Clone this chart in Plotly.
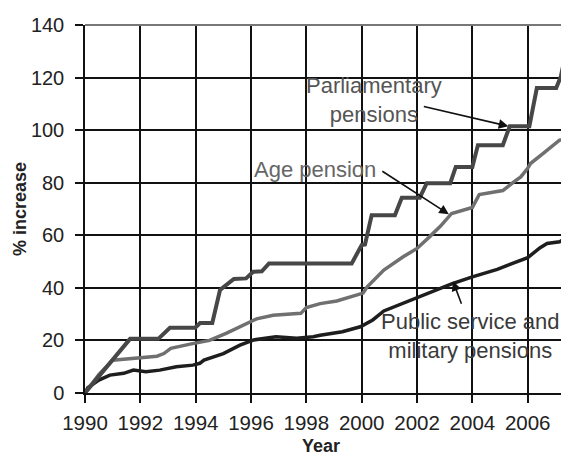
import plotly.graph_objects as go

# ---- data ----
parl_years = [1990.0, 1991.63, 1992.65, 1993.07, 1993.98, 1994.16, 1994.6, 1994.88, 1995.38,
              1995.82, 1996.08, 1996.39, 1996.65, 1999.64, 2000.0, 2000.12, 2000.36, 2001.2,
              2001.45, 2002.1, 2002.35, 2003.2, 2003.4, 2004.0, 2004.2, 2005.1, 2005.35,
              2006.06, 2006.33, 2007.03, 2007.2, 2007.42]
parl_vals = [0, 20.6, 20.6, 24.8, 24.8, 26.6, 26.6, 39.2, 43.4,
             43.6, 46.1, 46.3, 49.3, 49.3, 56.3, 56.5, 67.6, 67.6,
             74.3, 74.3, 79.8, 79.8, 86.0, 86.0, 94.3, 94.3, 101.5,
             101.5, 116.0, 116.0, 120.5, 131.5]

age_years = [1990.0, 1990.5, 1991.0, 1991.9, 1992.6, 1992.85, 1993.1, 1993.8, 1994.2, 1994.5,
             1995.1, 1995.6, 1996.2, 1996.8, 1997.8, 1998.0, 1998.5, 1999.1, 1999.6, 2000.05,
             2000.2, 2000.8, 2001.5, 2002.0, 2002.45, 2002.85, 2003.25, 2004.0, 2004.25,
             2005.1, 2005.5, 2005.75, 2006.0, 2006.1, 2006.55, 2006.9, 2007.15, 2007.45]
age_vals = [0, 7, 12.5, 13.2, 14.0, 15.0, 17.0, 18.6, 19.5, 20.0,
            22.7, 25.2, 28.2, 29.6, 30.3, 32.5, 34.0, 35.0, 36.5, 38.0,
            40.4, 46.8, 51.8, 55.0, 59.4, 63.5, 68.3, 70.6, 75.5,
            77.0, 80.3, 82.2, 85.5, 87.3, 91.1, 94.3, 96.2, 96.5]

pub_years = [1990.0, 1990.1, 1990.5, 1990.9, 1991.4, 1991.75, 1992.2, 1992.7, 1993.3, 1993.9,
             1994.15, 1994.3, 1995.0, 1995.6, 1996.1, 1996.9, 1997.65, 1998.25, 1998.5,
             1999.3, 1999.95, 2000.4, 2000.8, 2001.5, 2002.3, 2003.25, 2004.0, 2004.9,
             2005.5, 2006.0, 2006.45, 2006.7, 2007.15, 2007.42]
pub_vals = [0, 2.0, 4.9, 6.8, 7.5, 8.7, 8.1, 8.7, 10.0, 10.6,
            11.3, 12.5, 15.0, 18.2, 20.2, 21.4, 20.8, 21.4, 22.0,
            23.3, 25.2, 27.8, 31.2, 34.1, 37.6, 41.5, 44.2, 47.0,
            49.5, 51.5, 55.3, 56.9, 57.5, 59.3]

x_ticks = [1990, 1992, 1994, 1996, 1998, 2000, 2002, 2004, 2006]
y_ticks = [0, 20, 40, 60, 80, 100, 120, 140]

FONT = "Liberation Sans, Arial, sans-serif"

fig = go.Figure()
fig.add_trace(go.Scatter(x=pub_years, y=pub_vals, mode="lines",
                         line=dict(color="#1e1e1e", width=3.5), name="Public service and military pensions"))
fig.add_trace(go.Scatter(x=age_years, y=age_vals, mode="lines",
                         line=dict(color="#707070", width=3.5), name="Age pension"))
fig.add_trace(go.Scatter(x=parl_years, y=parl_vals, mode="lines",
                         line=dict(color="#474747", width=4), name="Parliamentary pensions"))

# labels with arrows
fig.add_annotation(x=2005.3, y=101.5, ax=-86, ay=-20,
                   text="", showarrow=True, arrowhead=2, arrowsize=1.2, arrowwidth=1.6, arrowcolor="#111")
fig.add_annotation(x=2003.15, y=68, text="", showarrow=True, arrowhead=2, arrowsize=1.2,
                   arrowwidth=1.6, arrowcolor="#111", ax=-68, ay=-44)
fig.add_annotation(x=2003.3, y=42.5, text="", showarrow=True, arrowhead=2, arrowsize=1.2,
                   arrowwidth=1.6, arrowcolor="#111", ax=9, ay=24)

fig.add_annotation(x=2000.45, y=111.5, text="Parliamentary<br>pensions", showarrow=False,
                   font=dict(family=FONT, size=22, color="#555555"))
fig.add_annotation(x=1998.3, y=85, text="Age pension", showarrow=False,
                   font=dict(family=FONT, size=22, color="#666666"))
fig.add_annotation(x=2003.95, y=21.5, text="Public service and<br>military pensions", showarrow=False,
                   font=dict(family=FONT, size=22, color="#3a3a3a"))

# x-axis title placed below the tick labels
fig.add_annotation(xref="paper", yref="paper", x=0.49, y=0, yanchor="middle", yshift=-53,
                   text="<b>Year</b>", showarrow=False, borderpad=0,
                   font=dict(family=FONT, size=18, color="#222"))

# page has an 8px body margin: figure is sized to fit the window exactly
fig.update_layout(
    width=561, height=449,
    margin=dict(l=77, r=2, t=17, b=64),
    paper_bgcolor="white", plot_bgcolor="white",
    showlegend=False,
    font=dict(family=FONT, size=20, color="#222"),
    xaxis=dict(range=[1990, 2007.42], tickvals=x_ticks, ticktext=[str(t) for t in x_ticks],
               showgrid=True, gridcolor="#111", gridwidth=1.5,
               showline=True, linecolor="#111", linewidth=1.5,
               ticks="outside", ticklen=8, tickwidth=1.5, tickcolor="#111",
               ticklabelstandoff=3, zeroline=False, automargin=False,
               tickfont=dict(family=FONT, size=20.5, color="#222")),
    yaxis=dict(range=[0, 140], tickvals=y_ticks,
               showgrid=True, gridcolor="#111", gridwidth=1.5,
               showline=True, linecolor="#111", linewidth=1.5,
               ticks="outside", ticklen=8, tickwidth=1.5, tickcolor="#111",
               ticklabelstandoff=7, zeroline=False, automargin=False,
               tickfont=dict(family=FONT, size=20, color="#222"),
               title=dict(text="<b>% increase</b>", font=dict(family=FONT, size=18, color="#222"), standoff=0)),
    shapes=[dict(type="line", xref="paper", yref="paper", x0=0, x1=1, y0=1, y1=1,
                 line=dict(color="#777", width=2))],
)

fig.write_html("out.html")
